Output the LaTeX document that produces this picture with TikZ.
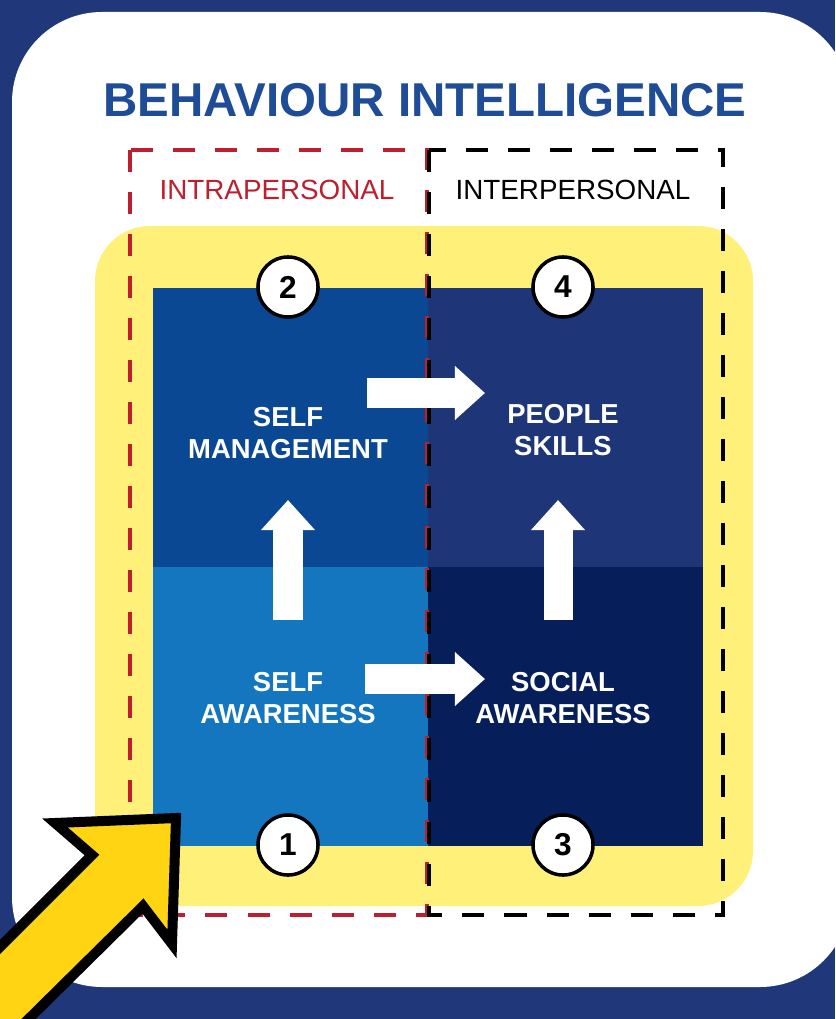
\documentclass[tikz,border=0pt]{standalone}
\usepackage{fontspec}
\setmainfont{Liberation Sans}
\usetikzlibrary{arrows.meta}

\definecolor{bgblue}{RGB}{32,56,122}
\definecolor{titleblue}{RGB}{30,76,150}
\definecolor{intrared}{RGB}{190,30,45}
\definecolor{softyellow}{RGB}{255,240,122}
\definecolor{arrowyellow}{RGB}{255,212,18}
\definecolor{qmanage}{RGB}{10,72,148}
\definecolor{qpeople}{RGB}{30,54,120}
\definecolor{qself}{RGB}{20,118,190}
\definecolor{qsocial}{RGB}{6,30,90}

\tikzset{
  quad/.style={minimum width=2.75cm, minimum height=2.79cm, anchor=north west, inner sep=0pt},
  numcircle/.style={circle, draw=black, line width=1pt, fill=white, minimum size=0.6cm,
                    inner sep=0pt, font=\bfseries\fontsize{9}{9}\selectfont},
  quadlabel/.style={text=white, align=center, font=\bfseries\fontsize{7.8}{9.2}\selectfont},
  sidelabel/.style={font=\fontsize{7.9}{9}\selectfont},
  whitearrow/.style={white, line width=0.29cm, -{Triangle[width=0.52cm,length=0.3cm]}},
  dashline/.style={line width=0.04cm, dash pattern=on 0.22cm off 0.2cm}
}

\begin{document}
\begin{tikzpicture}[x=0.01cm, y=-0.01cm]
    \useasboundingbox (0,0) rectangle (835,1019);
    % Background and panel
    \fill[bgblue] (0,0) rectangle (835,1019);
    \fill[white, rounded corners=0.9cm] (12,12) rectangle (850,987);

    % Title
    \node[text=titleblue, font=\bfseries\fontsize{13.5}{16}\selectfont] (title) at (425,100) {BEHAVIOUR INTELLIGENCE};

    % Highlight
    \fill[softyellow, rounded corners=0.55cm] (95,226) rectangle (753,906);

    % Quadrants
    \node[quad, fill=qmanage] (q2) at (152,287) {};
    \node[quad, fill=qpeople] (q4) at (427,287) {};
    \node[quad, fill=qself] (q1) at (152,566) {};
    \node[quad, fill=qsocial] (q3) at (427,566) {};

    % Intra / inter boxes
    \draw[dashline, intrared] (130,150) rectangle (427,915);
    \draw[dashline, black] (429,150) rectangle (723,915);
    \node[sidelabel, text=intrared] (intra) at (277,190) {INTRAPERSONAL};
    \node[sidelabel] (inter) at (573,190) {INTERPERSONAL};

    % Labels
    \node[quadlabel] (selfman) at (288,433) {SELF\\MANAGEMENT};
    \node[quadlabel] (people) at (563,430) {PEOPLE\\SKILLS};
    \node[quadlabel] (selfaw) at (288,698) {SELF\\AWARENESS};
    \node[quadlabel] (social) at (563,698) {SOCIAL\\AWARENESS};

    % Arrows
    \coordinate (topfrom) at (367,393);
    \coordinate (topto) at (485,393);
    \coordinate (lowfrom) at (365,679);
    \coordinate (lowto) at (485,679);
    \coordinate (leftfrom) at (288,620);
    \coordinate (leftto) at (288,500);
    \coordinate (rightfrom) at (558,620);
    \coordinate (rightto) at (558,500);
    \draw[whitearrow] (topfrom) -- (topto);
    \draw[whitearrow] (lowfrom) -- (lowto);
    \draw[whitearrow] (leftfrom) -- (leftto);
    \draw[whitearrow] (rightfrom) -- (rightto);

    % Numbers
    \node[numcircle] (n2) at (288,287) {2};
    \node[numcircle] (n4) at (563,287) {4};
    \node[numcircle] (n1) at (288,845) {1};
    \node[numcircle] (n3) at (563,845) {3};

    % Pointer
    \draw[fill=arrowyellow, line width=0.1cm, line join=miter]
        (176,818) -- (55,823) -- (92,855) -- (-63,1010) -- (-13,1060)
        -- (143,906) -- (172,944) -- cycle;
\end{tikzpicture}
\end{document}
